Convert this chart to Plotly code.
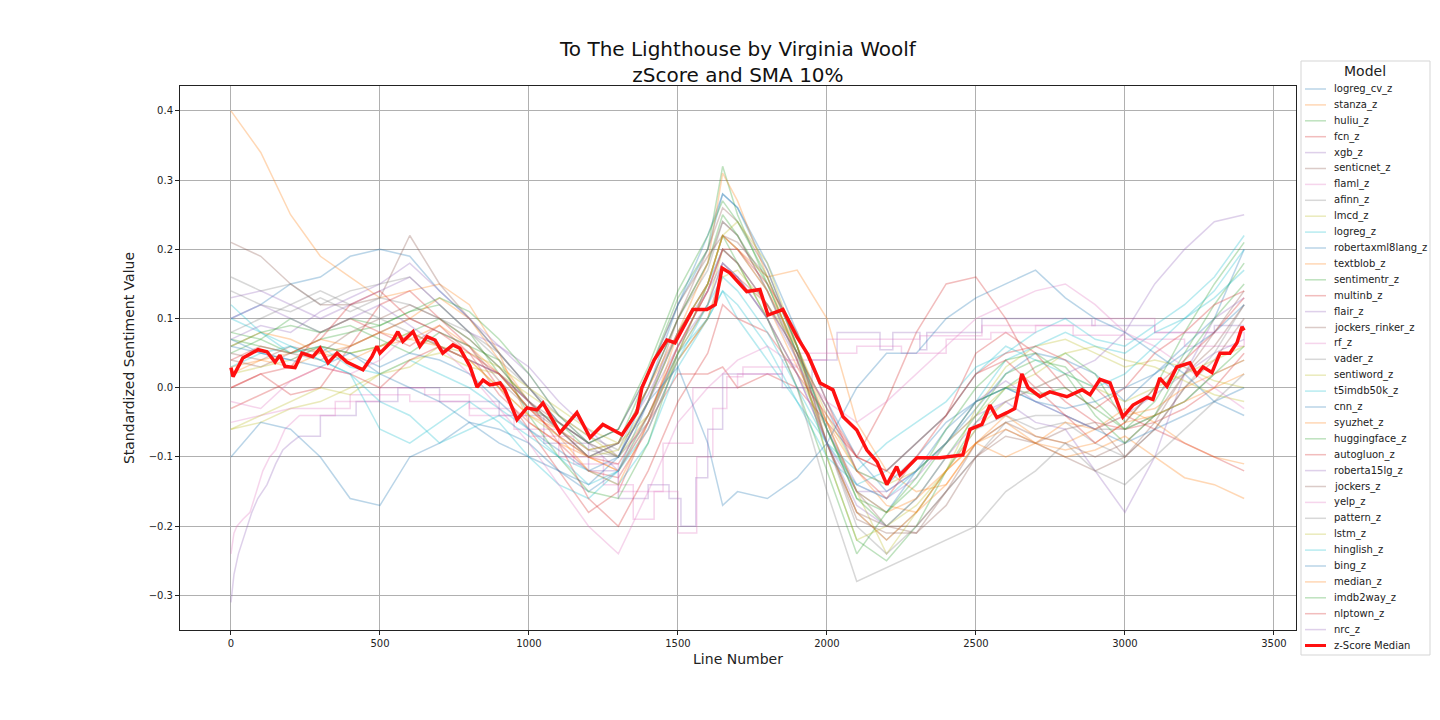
import plotly.graph_objs as go

# Sample points (line numbers) used for every smoothed model curve
line_no = [0, 100, 200, 300, 400, 500, 600, 700, 800, 900, 1000, 1100, 1200, 1300, 1400, 1500,
           1600, 1650, 1700, 1800, 1900, 2000, 2100, 2200, 2300, 2400, 2500, 2600, 2700, 2800,
           2900, 3000, 3100, 3200, 3300, 3400]

logreg_cv_z = [0.10, 0.12, 0.15, 0.16, 0.19, 0.20, 0.19, 0.14, 0.10, 0.05, 0.00, -0.05, -0.08, -0.06, 0.02, 0.12,
               0.20, 0.28, 0.26, 0.18, 0.08, -0.02, -0.10, -0.15, -0.12, -0.08, -0.03, 0.02, 0.05, 0.04,
               0.02, -0.02, 0.02, 0.06, 0.10, 0.20]
stanza_z = [0.40, 0.34, 0.25, 0.19, 0.16, 0.13, 0.14, 0.15, 0.12, 0.05, -0.05, -0.08, -0.10, -0.12, -0.05, 0.05,
            0.15, 0.22, 0.20, 0.16, 0.17, 0.10, -0.05, -0.12, -0.15, -0.14, -0.08, -0.05, -0.08, -0.10,
            -0.09, -0.07, -0.10, -0.13, -0.14, -0.16]
huliu_z = [0.07, 0.06, 0.05, 0.07, 0.08, 0.09, 0.11, 0.12, 0.08, 0.02, -0.03, -0.05, -0.09, -0.08, 0.02, 0.13,
           0.20, 0.32, 0.25, 0.15, 0.05, -0.10, -0.22, -0.25, -0.20, -0.12, -0.05, 0.00, 0.03, 0.05,
           0.02, -0.05, 0.00, 0.08, 0.15, 0.21]
fcn_z = [0.00, 0.02, -0.01, 0.00, 0.06, 0.12, 0.14, 0.10, 0.06, 0.00, -0.06, -0.12, -0.18, -0.15, -0.05, 0.02,
         0.02, 0.03, 0.00, 0.02, 0.00, -0.05, -0.10, -0.02, 0.08, 0.15, 0.16, 0.10, 0.02, -0.02,
         -0.05, -0.06, -0.05, -0.03, 0.00, 0.05]
senticnet_z = [0.21, 0.19, 0.15, 0.12, 0.12, 0.13, 0.22, 0.15, 0.10, 0.05, 0.00, -0.05, -0.08, -0.10, -0.02, 0.10,
               0.18, 0.24, 0.22, 0.14, 0.05, -0.05, -0.15, -0.20, -0.21, -0.15, -0.10, -0.07, -0.08, -0.06,
               -0.05, -0.10, -0.05, 0.02, 0.08, 0.14]
afinn_z = [0.16, 0.14, 0.15, 0.12, 0.14, 0.15, 0.16, 0.12, 0.08, 0.04, 0.00, -0.04, -0.07, -0.09, 0.00, 0.10,
           0.17, 0.24, 0.22, 0.14, 0.04, -0.08, -0.18, -0.22, -0.18, -0.12, -0.06, -0.04, -0.06, -0.05,
           -0.08, -0.10, -0.06, 0.00, 0.05, 0.12]
lmcd_z = [-0.06, -0.05, -0.03, -0.02, 0.00, 0.02, 0.03, 0.06, 0.05, 0.03, 0.00, -0.03, -0.06, -0.08, -0.04, 0.05,
          0.12, 0.20, 0.18, 0.10, 0.02, -0.06, -0.15, -0.24, -0.18, -0.12, -0.03, 0.03, 0.06, 0.07,
          0.05, 0.03, 0.04, 0.03, 0.01, 0.00]
logreg_z = [0.12, 0.08, 0.05, 0.06, 0.03, 0.02, 0.04, 0.02, 0.00, -0.03, -0.06, -0.10, -0.12, -0.14, -0.08, 0.03,
            0.10, 0.14, 0.12, 0.06, -0.02, -0.08, -0.12, -0.08, -0.05, -0.02, 0.03, 0.05, 0.08, 0.10,
            0.07, 0.06, 0.09, 0.12, 0.16, 0.22]
robertaxml8lang_z = [-0.10, -0.05, -0.06, -0.10, -0.16, -0.17, -0.10, -0.08, -0.05, -0.06, -0.08, -0.12, -0.15, -0.12, -0.02, 0.08,
                     0.15, 0.20, 0.18, 0.12, 0.05, -0.03, -0.12, -0.14, -0.10, -0.05, -0.02, 0.00, -0.02, -0.04,
                     -0.06, -0.08, -0.06, -0.04, -0.02, 0.00]
textblob_z = [0.06, 0.08, 0.07, 0.05, 0.06, 0.08, 0.10, 0.13, 0.10, 0.04, -0.02, -0.06, -0.10, -0.12, -0.04, 0.06,
              0.14, 0.20, 0.18, 0.12, 0.03, -0.05, -0.12, -0.17, -0.18, -0.14, -0.08, -0.04, -0.07, -0.08,
              -0.06, -0.03, -0.05, -0.08, -0.10, -0.11]
sentimentr_z = [0.05, 0.07, 0.05, 0.06, 0.05, 0.06, 0.08, 0.10, 0.07, 0.03, -0.02, -0.06, -0.10, -0.08, 0.00, 0.10,
                0.18, 0.25, 0.22, 0.15, 0.05, -0.06, -0.16, -0.20, -0.16, -0.10, -0.04, 0.02, 0.04, 0.03,
                -0.02, -0.06, -0.02, 0.05, 0.12, 0.18]
multinb_z = [0.00, 0.02, 0.03, 0.08, 0.10, 0.08, 0.06, 0.09, 0.05, -0.01, -0.05, -0.08, -0.12, -0.13, -0.06, 0.04,
             0.10, 0.17, 0.16, 0.12, 0.05, -0.03, -0.10, -0.12, -0.08, -0.04, 0.05, 0.08, 0.05, 0.00,
             -0.03, 0.00, 0.05, 0.08, 0.12, 0.14]
flair_z = [0.13, 0.14, 0.12, 0.10, 0.12, 0.14, 0.16, 0.12, 0.08, 0.06, 0.03, -0.02, -0.06, -0.10, -0.02, 0.06,
           0.12, 0.18, 0.16, 0.10, 0.02, -0.08, -0.15, -0.15, -0.12, -0.08, -0.04, -0.02, -0.05, -0.06,
           -0.12, -0.18, -0.10, 0.02, 0.10, 0.13]
jockers_rinker_z = [0.05, 0.04, 0.06, 0.05, 0.08, 0.10, 0.12, 0.10, 0.07, 0.03, -0.02, -0.05, -0.08, -0.06, 0.02, 0.12,
                    0.19, 0.22, 0.21, 0.16, 0.06, -0.08, -0.18, -0.20, -0.20, -0.15, -0.08, -0.05, -0.07, -0.08,
                    -0.10, -0.08, -0.04, 0.02, 0.06, 0.12]
vader_z = [0.08, 0.10, 0.12, 0.14, 0.12, 0.10, 0.08, 0.06, 0.04, 0.02, -0.02, -0.06, -0.09, -0.10, -0.02, 0.08,
           0.15, 0.22, 0.20, 0.14, 0.04, -0.08, -0.20, -0.24, -0.20, -0.15, -0.10, -0.05, -0.04, -0.04,
           -0.06, -0.06, -0.04, -0.02, 0.02, 0.04]
sentiword_z = [-0.06, -0.04, -0.02, 0.00, -0.01, 0.02, 0.04, 0.05, 0.03, 0.02, -0.01, -0.04, -0.07, -0.10, -0.04, 0.04,
               0.10, 0.16, 0.17, 0.12, 0.06, -0.04, -0.12, -0.14, -0.12, -0.08, -0.04, 0.00, 0.02, 0.05,
               0.06, 0.04, 0.03, 0.01, -0.01, -0.02]
t5imdb50k_z = [0.10, 0.08, 0.06, 0.04, 0.02, -0.06, -0.08, -0.05, -0.02, -0.05, -0.10, -0.14, -0.16, -0.12, -0.04, 0.05,
               0.10, 0.14, 0.10, 0.04, -0.02, -0.10, -0.14, -0.16, -0.12, -0.08, -0.02, 0.04, 0.06, 0.08,
               0.06, 0.05, 0.08, 0.10, 0.14, 0.20]
cnn_z = [0.06, 0.05, 0.04, 0.06, 0.05, 0.03, 0.05, 0.04, 0.02, -0.02, -0.06, -0.09, -0.12, -0.10, 0.00, 0.12,
         0.22, 0.28, 0.26, 0.17, 0.06, -0.06, -0.15, -0.18, -0.12, -0.06, -0.02, 0.00, -0.02, -0.03,
         -0.02, 0.00, 0.02, 0.05, 0.08, 0.12]
syuzhet_z = [0.03, 0.04, 0.05, 0.07, 0.06, 0.08, 0.07, 0.09, 0.06, 0.02, -0.03, -0.07, -0.12, -0.14, -0.05, 0.08,
             0.18, 0.31, 0.27, 0.16, 0.04, -0.08, -0.18, -0.22, -0.18, -0.12, -0.08, -0.10, -0.08, -0.05,
             -0.06, -0.04, -0.03, 0.00, 0.02, 0.04]
huggingface_z = [0.08, 0.07, 0.10, 0.08, 0.09, 0.07, 0.05, 0.08, 0.06, 0.04, -0.04, -0.10, -0.15, -0.16, -0.08, 0.05,
                 0.15, 0.22, 0.18, 0.10, 0.00, -0.12, -0.24, -0.18, -0.14, -0.08, -0.02, 0.00, -0.01, 0.00,
                 -0.03, -0.06, -0.04, -0.02, 0.02, 0.06]
autogluon_z = [-0.03, -0.01, 0.01, 0.03, 0.02, 0.00, 0.04, 0.06, 0.04, 0.02, -0.02, -0.08, -0.16, -0.20, -0.12, -0.02,
               0.05, 0.12, 0.10, 0.08, 0.02, -0.04, -0.10, -0.12, -0.08, -0.04, 0.02, 0.05, 0.06, 0.04,
               0.00, -0.04, -0.06, -0.08, -0.10, -0.12]
roberta15lg_z = [0.07, 0.09, 0.08, 0.11, 0.13, 0.15, 0.18, 0.14, 0.10, 0.06, 0.02, -0.04, -0.08, -0.12, -0.05, 0.06,
                 0.14, 0.20, 0.18, 0.12, 0.04, -0.06, -0.14, -0.16, -0.13, -0.08, -0.02, 0.01, -0.02, -0.04,
                 -0.06, -0.04, -0.01, 0.02, 0.05, 0.07]
jockers_z = [0.04, 0.03, 0.05, 0.04, 0.06, 0.08, 0.10, 0.08, 0.06, 0.01, -0.03, -0.06, -0.10, -0.08, 0.00, 0.10,
             0.20, 0.26, 0.24, 0.17, 0.06, -0.08, -0.19, -0.21, -0.21, -0.17, -0.10, -0.06, -0.08, -0.10,
             -0.12, -0.10, -0.06, 0.00, 0.04, 0.10]
yelp_z = [-0.02, -0.03, 0.01, 0.03, 0.02, 0.04, 0.08, 0.06, 0.02, -0.03, -0.08, -0.14, -0.20, -0.24, -0.15, -0.05,
          0.00, 0.02, 0.04, 0.06, 0.03, -0.02, -0.05, -0.02, 0.02, 0.06, 0.10, 0.12, 0.14, 0.15,
          0.12, 0.08, 0.06, 0.03, 0.00, -0.03]
pattern_z = [0.14, 0.12, 0.11, 0.13, 0.11, 0.13, 0.12, 0.10, 0.08, 0.05, 0.00, -0.05, -0.08, -0.10, -0.05, 0.05,
             0.12, 0.18, 0.16, 0.10, 0.00, -0.15, -0.28, -0.26, -0.24, -0.22, -0.20, -0.15, -0.12, -0.08,
             -0.12, -0.14, -0.10, -0.06, -0.02, 0.02]
lstm_z = [0.02, 0.03, 0.04, 0.06, 0.05, 0.06, 0.08, 0.06, 0.04, 0.00, -0.04, -0.07, -0.10, -0.09, -0.02, 0.08,
          0.15, 0.22, 0.24, 0.18, 0.06, -0.10, -0.22, -0.20, -0.17, -0.12, -0.06, -0.02, 0.00, 0.02,
          0.00, -0.02, 0.00, 0.02, 0.04, 0.06]
hinglish_z = [0.03, 0.05, 0.06, 0.04, 0.02, -0.02, -0.04, -0.08, -0.06, -0.04, -0.07, -0.10, -0.14, -0.12, -0.06, 0.04,
              0.12, 0.16, 0.14, 0.08, 0.00, -0.08, -0.14, -0.12, -0.08, -0.04, 0.02, 0.06, 0.04, 0.02,
              0.00, 0.02, 0.06, 0.10, 0.13, 0.17]
bing_z = [0.07, 0.05, 0.04, 0.03, 0.05, 0.02, 0.00, -0.02, -0.05, -0.08, -0.10, -0.12, -0.14, -0.10, -0.02, 0.03,
          -0.08, -0.17, -0.15, -0.16, -0.13, -0.08, 0.00, 0.05, 0.05, 0.10, 0.13, 0.15, 0.17, 0.13,
          0.10, 0.08, 0.05, 0.02, -0.02, -0.04]
median_z = [0.02, 0.04, 0.03, 0.05, 0.04, 0.06, 0.07, 0.06, 0.04, 0.00, -0.04, -0.06, -0.09, -0.08, 0.00, 0.08,
            0.15, 0.22, 0.20, 0.14, 0.06, -0.05, -0.15, -0.18, -0.16, -0.12, -0.08, -0.06, -0.08, -0.09,
            -0.08, -0.05, -0.04, -0.02, 0.00, 0.02]
imdb2way_z = [0.06, 0.08, 0.09, 0.08, 0.10, 0.09, 0.11, 0.13, 0.11, 0.07, 0.02, -0.04, -0.08, -0.06, 0.03, 0.14,
              0.22, 0.27, 0.24, 0.16, 0.06, -0.06, -0.16, -0.18, -0.13, -0.06, 0.00, 0.04, 0.05, 0.02,
              -0.04, -0.08, -0.04, 0.04, 0.10, 0.15]
nlptown_z = [0.04, 0.06, 0.05, 0.07, 0.12, 0.14, 0.10, 0.08, 0.05, 0.02, -0.03, -0.07, -0.10, -0.11, -0.04, 0.06,
             0.14, 0.20, 0.20, 0.15, 0.08, -0.02, -0.12, -0.16, -0.10, -0.04, 0.02, 0.04, 0.00, -0.04,
             -0.08, -0.05, 0.00, 0.04, 0.08, 0.13]
nrc_z = [0.10, 0.12, 0.10, 0.08, 0.10, 0.12, 0.09, 0.06, 0.04, 0.02, -0.02, -0.06, -0.10, -0.08, -0.01, 0.08,
         0.14, 0.18, 0.16, 0.10, 0.02, -0.08, -0.17, -0.20, -0.16, -0.10, -0.05, -0.02, 0.00, 0.02,
         0.04, 0.08, 0.15, 0.20, 0.24, 0.25]

# Classifier models: smooth start (expanding window) then step-like curves
xgb_x = [0, 10, 25, 40, 54, 70, 90, 121, 150, 174, 200, 230, 300, 420, 560, 700, 900, 1050, 1200, 1300, 1400,
         1470, 1510, 1560, 1600, 1650, 1750, 1850, 1950, 2034, 2178, 2221, 2312, 2335, 2520, 2889, 3100, 3300, 3400]
xgb_z = [-0.31, -0.27, -0.24, -0.22, -0.20, -0.18, -0.16, -0.14, -0.11, -0.09, -0.08, -0.07, -0.04, -0.02, 0.00, -0.02,
         -0.04, -0.08, -0.12, -0.16, -0.14, -0.16, -0.20, -0.13, -0.06, 0.02, 0.02, 0.00, 0.04, 0.08, 0.055,
         0.08, 0.055, 0.08, 0.10, 0.09, 0.08, 0.09, 0.09]
flaml_x = [0, 10, 20, 40, 64, 85, 107, 130, 150, 181, 205, 230, 350, 500, 650, 800, 950, 1100, 1250, 1350, 1420,
           1500, 1563, 1617, 1664, 1718, 1800, 1900, 2000, 2245, 2312, 2520, 2604, 2826, 3000, 3200, 3400]
flaml_z = [-0.24, -0.21, -0.20, -0.19, -0.18, -0.15, -0.12, -0.10, -0.09, -0.06, -0.05, -0.04, -0.02, 0.00, -0.01, -0.03,
           -0.06, -0.10, -0.14, -0.19, -0.15, -0.21, -0.10, -0.03, 0.016, 0.03, 0.03, 0.05, 0.07, 0.07, 0.075,
           0.09, 0.09, 0.076, 0.07, 0.06, 0.07]
rf_x = [0, 200, 400, 600, 800, 1000, 1150, 1300, 1450, 1550, 1700, 1850, 2000, 2100, 2250, 2400, 2550, 2700,
        2900, 3100, 3250, 3400]
rf_z = [-0.05, -0.03, -0.01, -0.02, -0.04, -0.07, -0.11, -0.15, -0.08, 0.00, 0.02, 0.04, 0.05, 0.06, 0.05, 0.07,
        0.08, 0.09, 0.10, 0.08, 0.08, 0.07]

# z-Score median across all models
median_x = [0, 7, 40, 91, 121, 148, 164, 181, 215, 238, 275, 299, 326, 356, 389, 409, 443, 473, 490, 500,
            544, 560, 577, 611, 634, 658, 685, 711, 745, 768, 802, 826, 846, 869, 903, 919, 960, 993, 1027,
            1047, 1104, 1161, 1205, 1248, 1312, 1362, 1379, 1420, 1463, 1490, 1550, 1597, 1625, 1648, 1674,
            1731, 1775, 1802, 1852, 1899, 1936, 1977, 2020, 2054, 2100, 2134, 2168, 2201, 2234, 2245, 2302,
            2379, 2456, 2480, 2520, 2547, 2570, 2604, 2630, 2654, 2675, 2715, 2748, 2805, 2856, 2883, 2916,
            2950, 2993, 3027, 3074, 3094, 3117, 3141, 3174, 3218, 3241, 3262, 3292, 3319, 3352, 3376, 3393, 3400]
median_y = [0.029, 0.016, 0.043, 0.055, 0.052, 0.037, 0.047, 0.031, 0.029, 0.050, 0.045, 0.057, 0.036, 0.050, 0.037, 0.033,
            0.026, 0.045, 0.060, 0.050, 0.069, 0.081, 0.067, 0.081, 0.060, 0.074, 0.069, 0.050, 0.062, 0.057,
            0.031, 0.001, 0.011, 0.004, 0.007, -0.003, -0.046, -0.029, -0.032, -0.022, -0.065, -0.036, -0.072,
            -0.053, -0.068, -0.036, 0.000, 0.040, 0.069, 0.065, 0.113, 0.113, 0.120, 0.173, 0.166, 0.139,
            0.142, 0.105, 0.113, 0.074, 0.048, 0.007, -0.003, -0.042, -0.061, -0.090, -0.107, -0.140, -0.114,
            -0.126, -0.101, -0.101, -0.097, -0.060, -0.053, -0.025, -0.043, -0.036, -0.030, 0.020, 0.000,
            -0.013, -0.006, -0.013, -0.003, -0.010, 0.012, 0.007, -0.042, -0.025, -0.014, -0.017, 0.014, 0.002,
            0.030, 0.036, 0.019, 0.030, 0.022, 0.050, 0.050, 0.065, 0.088, 0.083]

tab10 = ['#1f77b4', '#ff7f0e', '#2ca02c', '#d62728', '#9467bd',
         '#8c564b', '#e377c2', '#7f7f7f', '#bcbd22', '#17becf']

models = [
    ('logreg_cv_z', line_no, logreg_cv_z), ('stanza_z', line_no, stanza_z), ('huliu_z', line_no, huliu_z),
    ('fcn_z', line_no, fcn_z), ('xgb_z', xgb_x, xgb_z), ('senticnet_z', line_no, senticnet_z),
    ('flaml_z', flaml_x, flaml_z), ('afinn_z', line_no, afinn_z), ('lmcd_z', line_no, lmcd_z),
    ('logreg_z', line_no, logreg_z), ('robertaxml8lang_z', line_no, robertaxml8lang_z),
    ('textblob_z', line_no, textblob_z), ('sentimentr_z', line_no, sentimentr_z),
    ('multinb_z', line_no, multinb_z), ('flair_z', line_no, flair_z),
    ('jockers_rinker_z', line_no, jockers_rinker_z), ('rf_z', rf_x, rf_z), ('vader_z', line_no, vader_z),
    ('sentiword_z', line_no, sentiword_z), ('t5imdb50k_z', line_no, t5imdb50k_z), ('cnn_z', line_no, cnn_z),
    ('syuzhet_z', line_no, syuzhet_z), ('huggingface_z', line_no, huggingface_z),
    ('autogluon_z', line_no, autogluon_z), ('roberta15lg_z', line_no, roberta15lg_z),
    ('jockers_z', line_no, jockers_z), ('yelp_z', line_no, yelp_z), ('pattern_z', line_no, pattern_z),
    ('lstm_z', line_no, lstm_z), ('hinglish_z', line_no, hinglish_z), ('bing_z', line_no, bing_z),
    ('median_z', line_no, median_z), ('imdb2way_z', line_no, imdb2way_z), ('nlptown_z', line_no, nlptown_z),
    ('nrc_z', line_no, nrc_z),
]
step_models = ['xgb_z', 'flaml_z', 'rf_z']
SMOOTH_START = 231  # classifier curves are smooth up to here, stepped after

fig = go.Figure()

# Plot every model faintly
for i, (name, xs, ys) in enumerate(models):
    color = tab10[i % 10]
    if name in step_models:
        head = [k for k, x in enumerate(xs) if x <= SMOOTH_START]
        tail = [k for k, x in enumerate(xs) if x >= xs[head[-1]]]
        if len(head) > 1:
            fig.add_trace(go.Scatter(x=[xs[k] for k in head], y=[ys[k] for k in head], mode='lines',
                                     opacity=0.3, showlegend=False, line=dict(color=color, width=1.5)))
        fig.add_trace(go.Scatter(x=[xs[k] for k in tail], y=[ys[k] for k in tail], mode='lines', name=name,
                                 opacity=0.3, showlegend=False, line=dict(color=color, width=1.5, shape='hv')))
    else:
        fig.add_trace(go.Scatter(x=xs, y=ys, mode='lines', name=name, opacity=0.3, showlegend=False,
                                 line=dict(color=color, width=1.5)))

# Plot the median on top
fig.add_trace(go.Scatter(x=median_x, y=median_y, mode='lines', name='z-Score Median', showlegend=False,
                         line=dict(color='#ff1010', width=3.5)))

# Page pixels of the target layout; the html body adds an 8px margin, so work in figure pixels
PAGE_OFFSET = 8
W, H = 1424, 704
PLOT_L, PLOT_R, PLOT_T, PLOT_B = 180 - PAGE_OFFSET, 1296 - PAGE_OFFSET, 86 - PAGE_OFFSET, 630 - PAGE_OFFSET

def px_x(px):
    return (px - PAGE_OFFSET - PLOT_L) / (PLOT_R - PLOT_L)

def px_y(py):
    return (PLOT_B - (py - PAGE_OFFSET)) / (PLOT_B - PLOT_T)

# Legend drawn by hand (matplotlib style: compact entries in a framed box right of the axes)
shapes = [dict(type='rect', xref='paper', yref='paper', x0=px_x(1301), x1=px_x(1430), y0=px_y(655), y1=px_y(61),
               line=dict(color='#d5d5d5', width=1), fillcolor='white', layer='above')]
annotations = [dict(text='Model', xref='paper', yref='paper', x=px_x(1365), y=px_y(71), showarrow=False,
                    xanchor='center', yanchor='middle', font=dict(size=14, color='#222'))]
entries = [(name, tab10[i % 10], 0.3, 1.5) for i, (name, _, _) in enumerate(models)]
entries.append(('z-Score Median', '#ff1010', 1.0, 3))
for k, (name, color, alpha, w) in enumerate(entries):
    py = 89 + k * 15.9
    shapes.append(dict(type='line', xref='paper', yref='paper', x0=px_x(1305), x1=px_x(1326),
                       y0=px_y(py), y1=px_y(py), opacity=alpha, layer='above', line=dict(color=color, width=w)))
    annotations.append(dict(text=name, xref='paper', yref='paper', x=px_x(1332), y=px_y(py), showarrow=False,
                            xanchor='left', yanchor='middle', font=dict(size=10, color='#222')))

# Two-line title centred over the axes
annotations.append(dict(text='To The Lighthouse by Virginia Woolf<br>zScore and SMA 10%', xref='paper', yref='paper',
                        x=0.5, y=px_y(62), showarrow=False, xanchor='center', yanchor='middle',
                        font=dict(size=20, color='#111')))

axis_style = dict(showline=True, linecolor='#222', linewidth=1, mirror=True, showgrid=True,
                  gridcolor='#b0b0b0', gridwidth=1, zeroline=False, ticks='outside', ticklen=4,
                  tickcolor='#222', tickfont=dict(size=10, color='#222'), automargin=False)

fig.update_layout(
    width=W, height=H,
    paper_bgcolor='white', plot_bgcolor='white',
    font=dict(family='DejaVu Sans', color='#222'),
    margin=dict(l=PLOT_L, r=W - PLOT_R, t=PLOT_T, b=H - PLOT_B, autoexpand=False),
    xaxis=dict(axis_style, range=[-171, 3574], dtick=500, tick0=0, tickformat='d',
               title=dict(text='Line Number', font=dict(size=14), standoff=6)),
    yaxis=dict(axis_style, range=[-0.35, 0.436], dtick=0.1, tick0=0, tickformat='.1f',
               title=dict(text='Standardized Sentiment Value', font=dict(size=14), standoff=10)),
    shapes=shapes,
    annotations=annotations,
    showlegend=False,
)

fig.write_html("out.html")
